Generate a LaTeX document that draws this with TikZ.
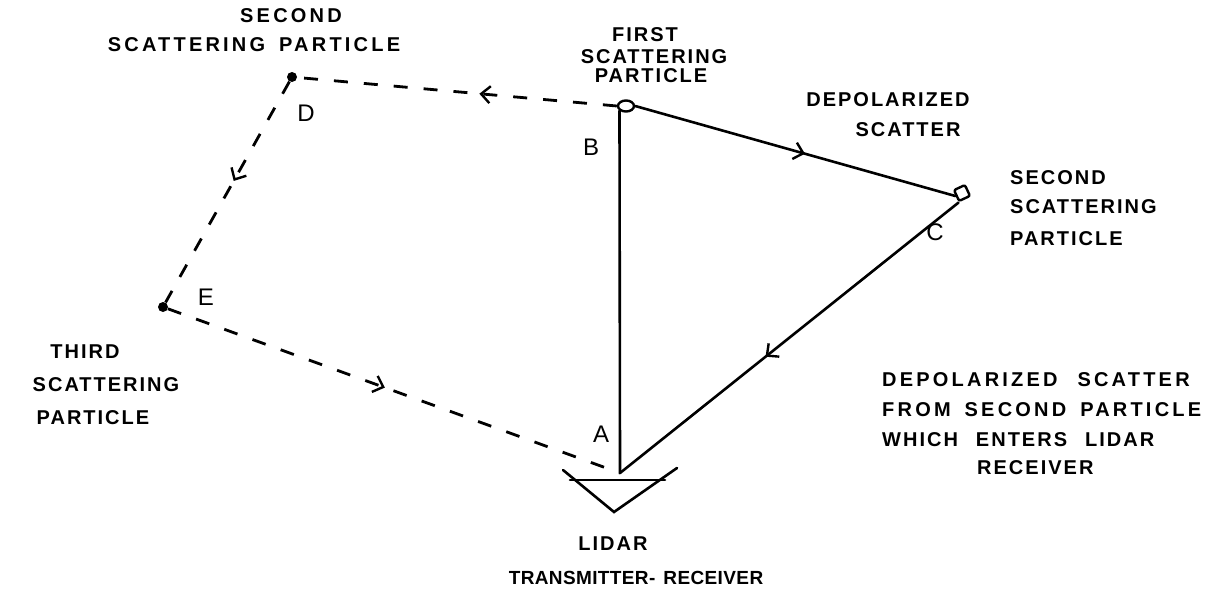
\documentclass[tikz,border=0pt]{standalone}
\usepackage{fontspec}
\setmainfont{Liberation Sans}[LetterSpace=10]
\usetikzlibrary{arrows.meta,decorations.markings,shapes.geometric}
\tikzset{
  ln/.style={line width=2.6pt, line cap=round},
  dsh/.style={line width=2.8pt, dash pattern=on 14pt off 16pt},
  dot/.style={circle, fill, inner sep=0pt, minimum size=10pt},
  partB/.style={ellipse, draw, line width=2.4pt, inner sep=0pt, minimum width=16pt, minimum height=11pt},
  partC/.style={rectangle, rounded corners=2pt, draw, line width=2.4pt, inner sep=0pt, minimum size=12pt, rotate=25},
  lbl/.style={font=\fontsize{20}{22}\selectfont\bfseries, inner sep=0pt},
  wide/.style={font=\fontsize{20}{22}\selectfont\bfseries\addfontfeature{LetterSpace=16}},
  tight/.style={font=\fontsize{19}{22}\selectfont\bfseries\addfontfeature{LetterSpace=2}},
  ltr/.style={font=\fontsize{24}{26}\selectfont, inner sep=0pt},
  midarrow/.style={postaction={decorate, decoration={markings,
     mark=at position #1 with {\arrow[line width=2.4pt]{Straight Barb[length=9pt,width=17pt]}}}}},
}
\begin{document}
\begin{tikzpicture}[x=1pt,y=-1pt]
\useasboundingbox (0,0) rectangle (1209,589);
% particles
\node[partB] (B) at (626,106) {};
\node[partC] (C) at (962,193) {};
\node[dot] (D) at (292,77) {};
\node[dot] (E) at (163,307) {};
\coordinate (A) at (620,473);
% receiver
\coordinate (R1) at (563,470);
\coordinate (R2) at (614,512);
\coordinate (R3) at (677,468);
\coordinate (H1) at (570,480);
\coordinate (H2) at (665,480);
\draw[ln] (R1) -- (R2) -- (R3);
\draw[ln] (H1) -- (H2);
% solid path
\draw[ln] (A) -- (B.south west);
\draw[ln, midarrow=0.53] (B.east) -- (C.west);
\draw[ln, midarrow=0.57] (C.south west) -- (A);
% dashed path
\draw[dsh, midarrow=0.43] (B.west) -- (D);
\draw[dsh, midarrow=0.45] (D) -- (E);
\draw[dsh, midarrow=0.48] (E) -- (A);
% point letters
\node[ltr] (lA) at (601,434) {A};
\node[ltr] (lB) at (591,147) {B};
\node[ltr] (lC) at (935,232) {C};
\node[ltr] (lD) at (306,113) {D};
\node[ltr] (lE) at (206,297) {E};
% labels
\node[lbl, wide] (t1) at (291,16) {SECOND};
\node[lbl, wide] (t2) at (254,45) {SCATTERING\hspace{14pt}PARTICLE};
\node[lbl] (t3) at (645,35) {FIRST};
\node[lbl] (t4) at (654,57) {SCATTERING};
\node[lbl] (t5) at (651,76) {PARTICLE};
\node[lbl] (t6) at (888,100) {DEPOLARIZED};
\node[lbl] (t7) at (908,130) {SCATTER};
\node[lbl, anchor=west] (t8) at (1010,178) {SECOND};
\node[lbl, anchor=west] (t9) at (1010,207) {SCATTERING};
\node[lbl, anchor=west] (t10) at (1010,239) {PARTICLE};
\node[lbl] (t11) at (85,352) {THIRD};
\node[lbl] (t12) at (106,385) {SCATTERING};
\node[lbl] (t13) at (93,418) {PARTICLE};
\node[lbl, wide, anchor=west] (t14) at (882,380) {DEPOLARIZED\hspace{20pt}SCATTER};
\node[lbl, wide, anchor=west] (t15) at (882,410) {FROM\hspace{14pt}SECOND\hspace{14pt}PARTICLE};
\node[lbl, anchor=west] (t16) at (882,440) {WHICH\hspace{18pt}ENTERS\hspace{18pt}LIDAR};
\node[lbl, anchor=west] (t17) at (977,468) {RECEIVER};
\node[lbl] (t18) at (613,544) {LIDAR};
\node[lbl, tight] (t19) at (636,578) {TRANSMITTER-\hspace{8pt}RECEIVER};
\end{tikzpicture}
\end{document}
